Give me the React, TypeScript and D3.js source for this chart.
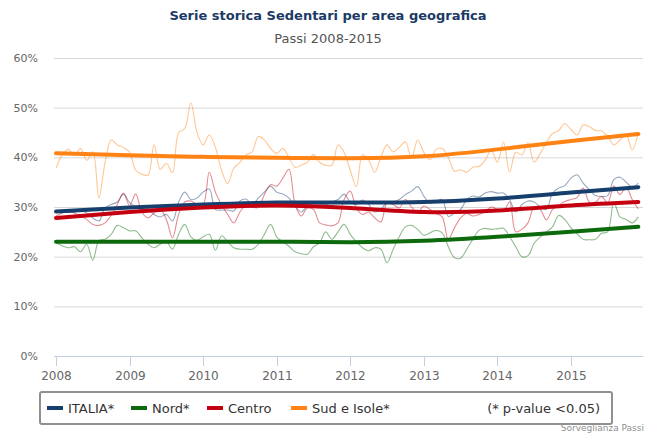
import { useEffect, useRef } from "react";
import * as d3 from "d3";

const WIDTH = 656;
const HEIGHT = 434;
const PLOT = { left: 54, right: 643, top: 58, bottom: 356 };
const FONT = "'DejaVu Sans', Verdana, sans-serif";

// monthly values, Jan 2008 .. Dec 2015 (%)
const italia = [
  29.2, 29.0, 28.9, 29.0, 29.2, 28.8, 27.8, 27.2, 29.8, 30.5, 31.0, 32.6,
  30.9, 30.0, 29.4, 29.4, 28.5, 28.0, 28.5, 27.2, 31.0, 33.0, 31.5, 31.8,
  33.0, 33.6, 29.5, 29.4, 29.4, 29.2, 31.2, 31.6, 30.5, 31.8, 33.0, 34.2,
  33.0, 32.6, 31.8, 30.2, 29.0, 30.2, 30.2, 30.4, 30.5, 31.0, 31.5, 32.6,
  31.0, 30.5, 31.4, 30.5, 29.0, 29.5, 31.0, 31.0, 31.5, 32.5, 33.2, 34.1,
  32.2, 30.8, 31.2, 31.5, 28.1, 28.8, 29.5, 31.5, 32.2, 32.0, 32.8, 33.1,
  32.8, 32.8, 31.5, 29.0, 30.5, 31.2, 31.0, 30.0, 29.5, 32.8, 33.8, 34.3,
  35.8, 36.5, 34.8, 33.5, 32.3, 32.1, 32.3, 35.5, 36.0, 35.0, 34.0, 34.8,
];
const nord = [
  22.8, 22.2, 21.8, 22.0, 21.0, 22.5, 19.3, 23.2, 23.5, 24.5, 26.3, 25.8,
  25.2, 25.2, 23.8, 22.5, 21.8, 22.5, 23.0, 21.5, 24.5, 26.5, 24.0, 23.3,
  24.0, 24.5, 21.3, 24.2, 23.0, 21.8, 21.5, 21.5, 21.5, 22.5, 24.5, 26.5,
  24.0, 23.0, 22.1, 21.0, 20.6, 20.5, 22.0, 22.8, 25.0, 23.5, 25.0, 26.5,
  24.5, 23.0, 21.8, 21.2, 21.8, 21.5, 18.8, 21.5, 24.0, 26.0, 26.3, 25.5,
  24.3, 24.8, 25.3, 24.8, 22.0, 19.8, 19.7, 21.5, 23.5, 25.3, 25.7, 25.5,
  25.6, 25.7, 24.0, 22.0, 20.0, 20.2, 22.7, 24.0, 25.0, 26.0, 28.3, 27.5,
  25.8, 24.6, 23.5, 23.4, 23.5, 24.7, 25.0, 31.0, 28.0, 27.5, 26.8, 28.0,
];
const centro = [
  28.2, 28.8, 29.2, 28.8, 28.2, 27.5, 26.5, 26.3, 26.8, 28.3, 30.5, 32.8,
  30.3, 32.6, 29.0, 27.8, 28.8, 29.5, 27.5, 23.8, 28.5, 31.0, 31.2, 30.5,
  30.5, 37.0, 33.0, 30.5, 28.5, 26.8, 29.0, 30.3, 30.0, 29.9, 32.5, 34.5,
  34.2, 35.8, 37.6, 30.5, 28.2, 29.8, 29.5, 26.8, 26.4, 26.2, 26.8, 31.5,
  33.2, 29.8, 28.5, 29.0, 27.8, 27.0, 30.8, 30.5, 29.8, 31.5, 30.0, 28.8,
  30.2, 29.5, 28.7, 28.0, 23.5, 25.8, 27.8, 28.7, 28.2, 28.5, 29.1, 30.0,
  29.5, 29.2, 31.0, 25.0, 25.5, 26.8, 30.0, 29.5, 27.4, 29.5, 30.3, 31.1,
  31.5, 31.9, 33.8, 31.0, 31.0, 32.1, 30.8, 34.2, 32.5, 34.0, 31.5, 29.6,
];
const sud = [
  37.8, 40.5, 41.6, 40.4, 41.8, 39.4, 41.1, 31.8, 39.0, 43.5, 42.5, 42.0,
  41.0, 37.4, 36.6, 36.4, 42.5, 37.6, 38.8, 36.9, 45.0, 45.8, 51.0, 45.0,
  42.5, 44.5, 42.0, 37.4, 34.7, 37.8, 39.0, 40.5, 41.1, 44.2, 43.5, 41.8,
  40.8, 41.8, 40.0, 38.0, 38.4, 39.0, 40.6, 39.0, 38.4, 38.4, 42.5, 41.0,
  37.4, 34.1, 40.5, 39.5, 37.0, 40.0, 42.5, 41.1, 42.0, 43.1, 39.8, 43.5,
  41.0, 39.5, 41.6, 41.8, 40.0, 37.2, 37.5, 37.0, 38.0, 38.2, 39.4, 41.5,
  39.0, 43.1, 37.0, 41.0, 40.5, 43.0, 39.0, 40.8, 43.0, 44.8, 45.4, 46.8,
  45.6, 44.5, 46.5, 46.2, 45.4, 45.3, 44.2, 42.5, 43.5, 44.5, 41.5, 45.1,
];

// trend lines, read at January of each year and at Dec 2015
const trendMonths = [0, 12, 24, 36, 48, 60, 72, 84, 95];
const italiaTrend = [29.1, 29.9, 30.5, 30.9, 30.9, 31.0, 31.7, 32.9, 34.0];
const nordTrend = [23.0, 23.0, 23.0, 23.0, 22.9, 23.2, 24.0, 25.0, 26.0];
const centroTrend = [27.8, 29.0, 29.9, 30.3, 29.8, 29.0, 29.3, 30.3, 31.0];
const sudTrend = [40.8, 40.4, 40.1, 39.9, 39.8, 40.2, 41.6, 43.3, 44.7];

const years = ["2008", "2009", "2010", "2011", "2012", "2013", "2014", "2015"];
const yTicks = [0, 10, 20, 30, 40, 50, 60];

const series = [
  { name: "ITALIA*", color: "#173f6e", values: italia, trend: italiaTrend },
  { name: "Nord*", color: "#0c6a0c", values: nord, trend: nordTrend },
  { name: "Centro", color: "#c40010", values: centro, trend: centroTrend },
  { name: "Sud e Isole*", color: "#ff8214", values: sud, trend: sudTrend },
];

export default function App() {
  const svgRef = useRef<SVGSVGElement>(null);

  useEffect(() => {
    const svg = d3.select(svgRef.current);
    svg.selectAll("*").remove();

    const x = d3
      .scaleLinear()
      .domain([-0.33, 95.76])
      .range([PLOT.left, PLOT.right]);
    const y = d3.scaleLinear().domain([0, 60]).range([PLOT.bottom, PLOT.top]);

    svg
      .append("rect")
      .attr("width", WIDTH)
      .attr("height", HEIGHT)
      .attr("fill", "#ffffff");

    // Title
    svg
      .append("text")
      .attr("x", 328)
      .attr("y", 20)
      .attr("text-anchor", "middle")
      .attr("font-family", FONT)
      .attr("font-size", "13px")
      .attr("font-weight", "bold")
      .attr("fill", "#1b3a66")
      .text("Serie storica Sedentari per area geografica");

    svg
      .append("text")
      .attr("x", 328)
      .attr("y", 43)
      .attr("text-anchor", "middle")
      .attr("font-family", FONT)
      .attr("font-size", "13px")
      .attr("fill", "#555555")
      .text("Passi 2008-2015");

    // Gridlines + y labels
    yTicks.forEach((t) => {
      if (t > 0) {
        svg
          .append("line")
          .attr("x1", PLOT.left)
          .attr("x2", PLOT.right)
          .attr("y1", y(t) + 0.5)
          .attr("y2", y(t) + 0.5)
          .attr("stroke", "#d8d8d8")
          .attr("stroke-width", 1);
      }
      svg
        .append("text")
        .attr("x", 38)
        .attr("y", y(t) + 4)
        .attr("text-anchor", "end")
        .attr("font-family", FONT)
        .attr("font-size", "11px")
        .attr("fill", "#666666")
        .text(`${t}%`);
    });

    // X axis
    svg
      .append("line")
      .attr("x1", PLOT.left)
      .attr("x2", PLOT.right)
      .attr("y1", PLOT.bottom + 0.5)
      .attr("y2", PLOT.bottom + 0.5)
      .attr("stroke", "#c0d0e0")
      .attr("stroke-width", 1);

    years.forEach((yr, i) => {
      const xp = Math.round(x(i * 12)) + 0.5;
      svg
        .append("line")
        .attr("x1", xp)
        .attr("x2", xp)
        .attr("y1", PLOT.bottom)
        .attr("y2", PLOT.bottom + 10)
        .attr("stroke", "#c0d0e0");
      svg
        .append("text")
        .attr("x", xp)
        .attr("y", PLOT.bottom + 24)
        .attr("text-anchor", "middle")
        .attr("font-family", FONT)
        .attr("font-size", "12px")
        .attr("fill", "#666666")
        .text(yr);
    });

    const thin = d3
      .line<number>()
      .x((_, i) => x(i))
      .y((d) => y(d))
      .curve(d3.curveCatmullRom.alpha(0.5));

    const thick = d3
      .line<number>()
      .x((_, i) => x(trendMonths[i]))
      .y((d) => y(d))
      .curve(d3.curveNatural);

    const g = svg.append("g");

    series.forEach((s) => {
      g.append("path")
        .attr("d", thin(s.values))
        .attr("fill", "none")
        .attr("stroke", s.color)
        .attr("stroke-opacity", 0.45)
        .attr("stroke-width", 1.1);
    });

    series.forEach((s) => {
      g.append("path")
        .attr("d", thick(s.trend))
        .attr("fill", "none")
        .attr("stroke", s.color)
        .attr("stroke-width", 4)
        .attr("stroke-linecap", "round");
    });

    // Legend
    svg
      .append("rect")
      .attr("x", 40)
      .attr("y", 392)
      .attr("width", 572)
      .attr("height", 32)
      .attr("rx", 2)
      .attr("fill", "#ffffff")
      .attr("stroke", "#909090")
      .attr("stroke-width", 2);

    const legendX = [47, 131, 207, 291];
    series.forEach((s, i) => {
      svg
        .append("line")
        .attr("x1", legendX[i])
        .attr("x2", legendX[i] + 16)
        .attr("y1", 408)
        .attr("y2", 408)
        .attr("stroke", s.color)
        .attr("stroke-width", 4);
      svg
        .append("text")
        .attr("x", legendX[i] + 21)
        .attr("y", 413)
        .attr("font-family", FONT)
        .attr("font-size", "13px")
        .attr("fill", "#333333")
        .text(s.name);
    });

    svg
      .append("text")
      .attr("x", 600)
      .attr("y", 413)
      .attr("text-anchor", "end")
      .attr("font-family", FONT)
      .attr("font-size", "13px")
      .attr("fill", "#333333")
      .text("(* p-value <0.05)");

    svg
      .append("text")
      .attr("x", 644)
      .attr("y", 431)
      .attr("text-anchor", "end")
      .attr("font-family", FONT)
      .attr("font-size", "9px")
      .attr("fill", "#909090")
      .text("Sorveglianza Passi");
  }, []);

  return (
    <div style={{ position: "absolute", left: 0, top: 0 }}>
      <svg ref={svgRef} width={WIDTH} height={HEIGHT} style={{ display: "block" }} />
    </div>
  );
}
